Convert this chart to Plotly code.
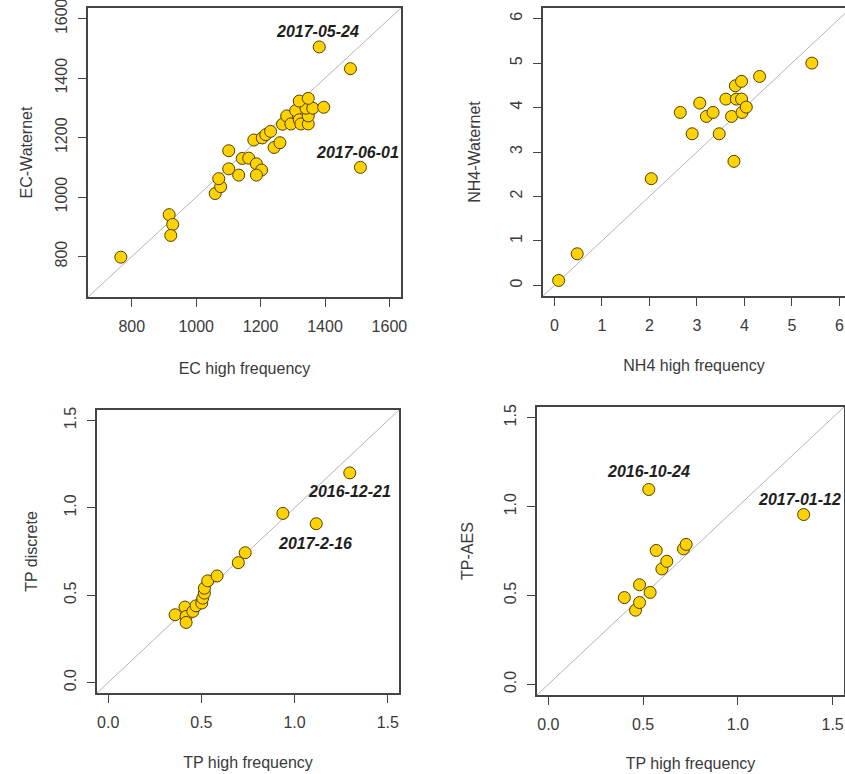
import plotly.graph_objects as go

# ---- EC: high-frequency sensor vs Waternet samples ----
ec_hf = [766, 916, 927, 921, 1059, 1076, 1070, 1101, 1101, 1132, 1143, 1163, 1187,
         1203, 1187, 1179, 1205, 1216, 1231, 1242, 1260, 1268, 1281, 1294, 1309,
         1320, 1325, 1348, 1348, 1341, 1362, 1320, 1348, 1396, 1382, 1479, 1510]
ec_wn = [798, 941, 908, 871, 1012, 1035, 1062, 1095, 1156, 1074, 1130, 1131, 1112,
         1091, 1074, 1192, 1199, 1210, 1221, 1167, 1183, 1245, 1273, 1246, 1291,
         1260, 1246, 1246, 1273, 1299, 1299, 1323, 1332, 1302, 1505, 1432, 1100]

# ---- NH4: high-frequency sensor vs Waternet samples ----
nh4_hf = [0.09, 0.48, 2.04, 2.65, 2.90, 3.06, 3.20, 3.34, 3.47, 3.61, 3.73, 3.78,
          3.81, 3.83, 3.94, 3.94, 3.95, 4.04, 4.32, 5.42]
nh4_wn = [0.11, 0.71, 2.40, 3.89, 3.41, 4.10, 3.80, 3.89, 3.41, 4.19, 3.80, 2.79,
          4.49, 4.19, 4.59, 4.19, 3.89, 4.01, 4.70, 5.00]

# ---- TP: high-frequency sensor vs discrete samples ----
tp_hf = [0.359, 0.412, 0.418, 0.418, 0.454, 0.471, 0.502, 0.507, 0.516, 0.516,
         0.534, 0.584, 0.698, 0.735, 0.937, 1.116, 1.296]
tp_disc = [0.388, 0.432, 0.378, 0.344, 0.407, 0.439, 0.455, 0.483, 0.512, 0.540,
           0.582, 0.610, 0.686, 0.743, 0.968, 0.909, 1.200]

# ---- TP: high-frequency sensor vs AES ----
tp_hf2 = [0.401, 0.460, 0.481, 0.481, 0.530, 0.537, 0.569, 0.599, 0.625, 0.713,
          0.727, 1.347]
tp_aes = [0.488, 0.417, 0.460, 0.560, 1.096, 0.517, 0.753, 0.649, 0.692, 0.762,
          0.787, 0.955]

# outlier labels: (panel, x, y, text)
labels = [
    (1, 1377, 1558, "2017-05-24"),
    (1, 1502, 1149, "2017-06-01"),
    (3, 1.293, 1.095, "2016-12-21"),
    (3, 1.109, 0.797, "2017-2-16"),
    (4, 0.53, 1.196, "2016-10-24"),
    (4, 1.326, 1.04, "2017-01-12"),
]

W, H = 845, 774
FONT = "Liberation Sans, Arial, sans-serif"
AX_COL = "#444444"
TXT_COL = "#3a3a3a"
FILL = "#FFD200"
EDGE = "#4d4100"


def dom_x(a, b):
    return [a / W, min(b / W, 1.0)]


def dom_y(top, bottom):
    return [1 - bottom / H, 1 - top / H]


panels = [
    dict(x=ec_hf, y=ec_wn, xt="EC high frequency", yt="EC-Waternet",
         xr=[664, 1636], yr=[664, 1636], xd=(88, 401), yd=(8, 297),
         tv=[800, 1000, 1200, 1400, 1600], tt=["800", "1000", "1200", "1400", "1600"],
         line=[664, 1636], xso=29, yso=16),
    dict(x=nh4_hf, y=nh4_wn, xt="NH4 high frequency", yt="NH4-Waternet",
         xr=[-0.24, 6.118], yr=[-0.24, 6.24], xd=(543, 845), yd=(8, 296),
         tv=[0, 1, 2, 3, 4, 5, 6], tt=["0", "1", "2", "3", "4", "5", "6"],
         line=[-0.24, 6.24], xso=27, yso=23),
    dict(x=tp_hf, y=tp_disc, xt="TP high frequency", yt="TP discrete",
         xr=[-0.06, 1.56], yr=[-0.06, 1.56], xd=(97, 399), yd=(410, 693),
         tv=[0, 0.5, 1.0, 1.5], tt=["0.0", "0.5", "1.0", "1.5"],
         line=[-0.06, 1.56], xso=27, yso=20),
    dict(x=tp_hf2, y=tp_aes, xt="TP high frequency", yt="TP-AES",
         xr=[-0.06, 1.56], yr=[-0.06, 1.56], xd=(537, 844), yd=(407, 695),
         tv=[0, 0.5, 1.0, 1.5], tt=["0.0", "0.5", "1.0", "1.5"],
         line=[-0.06, 1.56], xso=26, yso=24),
]

fig = go.Figure()
layout = {}
for i, p in enumerate(panels, start=1):
    xa = "x" if i == 1 else f"x{i}"
    ya = "y" if i == 1 else f"y{i}"
    # 1:1 reference line
    fig.add_trace(go.Scatter(
        x=p["line"], y=p["line"], mode="lines", xaxis=xa, yaxis=ya,
        line=dict(color="#b4b4b4", width=1), hoverinfo="skip", showlegend=False))
    fig.add_trace(go.Scatter(
        x=p["x"], y=p["y"], mode="markers", xaxis=xa, yaxis=ya, showlegend=False,
        cliponaxis=False,
        marker=dict(size=12, color=FILL, line=dict(color=EDGE, width=1))))
    common = dict(
        showgrid=False, zeroline=False, showline=True, mirror=True,
        linecolor=AX_COL, linewidth=1.6, ticks="outside", ticklen=8,
        tickwidth=1.3, tickcolor=AX_COL, tickvals=p["tv"], ticktext=p["tt"],
        tickfont=dict(family=FONT, size=16, color=TXT_COL),
        ticklabeloverflow="allow",
        fixedrange=True, automargin=False,
    )
    layout[f"xaxis{'' if i == 1 else i}"] = dict(
        common, domain=dom_x(*p["xd"]), range=p["xr"], anchor=ya,
        ticklabelstandoff=6,
        title=dict(text=p["xt"], standoff=p["xso"],
                   font=dict(family=FONT, size=16, color=TXT_COL)))
    layout[f"yaxis{'' if i == 1 else i}"] = dict(
        common, domain=dom_y(*p["yd"]), range=p["yr"], anchor=xa,
        tickangle=-90, ticklabelstandoff=5,
        title=dict(text=p["yt"], standoff=p["yso"],
                   font=dict(family=FONT, size=16, color=TXT_COL)))

annotations = []
for panel, x, y, text in labels:
    xa = "x" if panel == 1 else f"x{panel}"
    ya = "y" if panel == 1 else f"y{panel}"
    annotations.append(dict(
        x=x, y=y, xref=xa, yref=ya, text=f"<b><i>{text}</i></b>", showarrow=False,
        font=dict(family=FONT, size=16, color="#1e1e1e"), xanchor="center",
        yanchor="middle"))

fig.update_layout(
    width=W, height=H, margin=dict(l=0, r=0, t=0, b=0),
    paper_bgcolor="white", plot_bgcolor="white",
    annotations=annotations, **layout)

fig.write_html("out.html")
